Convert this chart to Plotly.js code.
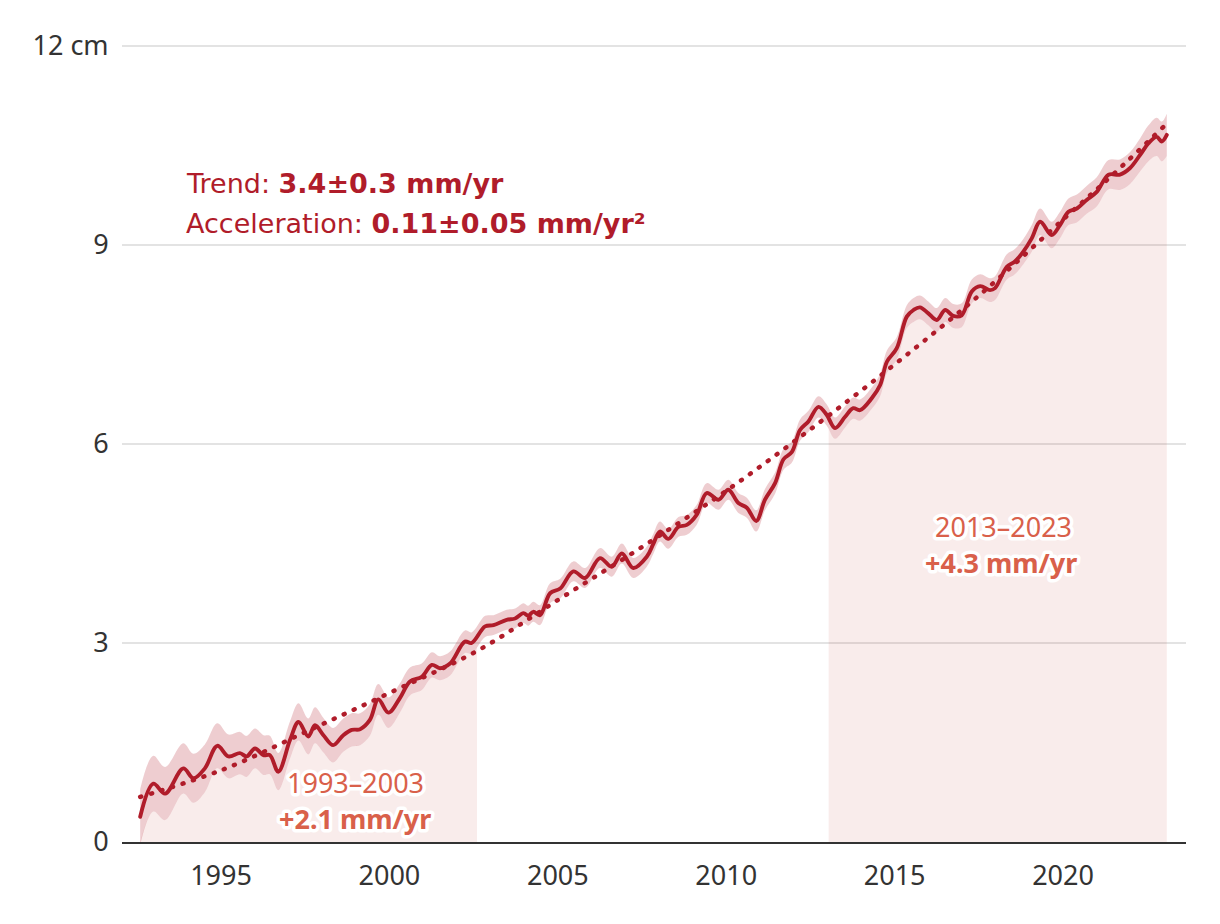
<!DOCTYPE html>
<html>
<head>
<meta charset="utf-8">
<script src="https://cdn.plot.ly/plotly-3.0.1.min.js"></script>
<style>
  html, body { margin: 0; padding: 0; background: #fff; }
  #chart { width: 1220px; height: 924px; }
  .js-line { stroke-linecap: round; stroke-linejoin: round; }
  .annotation-text { paint-order: stroke fill; stroke: #ffffff; stroke-width: 7px; stroke-linejoin: round; }
</style>
</head>
<body>
<div id="chart"></div>
<script>
// Global mean sea level (cm)
const years = [
1993.10,1993.49,1993.84,1994.38,1994.68,1995.02,1995.39,1995.72,1996.06,1996.26,
1996.51,1996.76,1996.95,1997.20,1997.55,1997.80,1998.09,1998.29,1998.54,1998.83,
1999.13,1999.38,1999.63,1999.92,2000.17,2000.47,2000.81,2001.11,2001.46,2001.76,
2002.00,2002.30,2002.74,2002.94,2003.34,2003.59,2003.98,2004.23,2004.48,2004.62,
2004.77,2004.97,2005.27,2005.57,2005.96,2006.31,2006.75,2007.10,2007.40,2007.74,
2008.14,2008.34,2008.53,2008.78,2009.08,2009.33,2009.62,2009.92,2010.27,2010.56,
2010.86,2011.11,2011.39,2011.65,2011.95,2012.20,2012.45,2012.69,2012.94,2013.24,
2013.48,2013.73,2014.03,2014.27,2014.47,2014.82,2015.07,2015.27,2015.56,2015.86,
2016.06,2016.25,2016.50,2016.75,2017.00,2017.24,2017.49,2017.79,2018.04,2018.33,
2018.48,2018.83,2019.07,2019.32,2019.57,2019.82,2020.16,2020.41,2020.66,2020.91,
2021.20,2021.50,2021.85,2022.19,2022.49,2022.79,2023.03,2023.28,2023.43,2023.58];

const gmsl = [
0.38,0.88,0.73,1.11,0.96,1.11,1.45,1.29,1.34,1.29,
1.41,1.31,1.31,1.06,1.54,1.81,1.59,1.76,1.61,1.46,
1.61,1.69,1.70,1.84,2.15,1.95,2.17,2.42,2.49,2.67,
2.62,2.69,3.02,3.00,3.25,3.27,3.35,3.37,3.45,3.41,
3.47,3.42,3.75,3.82,4.08,3.98,4.28,4.15,4.35,4.13,
4.30,4.50,4.68,4.57,4.75,4.78,4.93,5.26,5.16,5.31,
5.11,5.04,4.84,5.16,5.41,5.77,5.88,6.21,6.34,6.56,
6.44,6.24,6.41,6.54,6.51,6.69,6.89,7.24,7.44,7.92,
8.02,8.06,7.97,7.87,8.02,7.93,7.94,8.30,8.38,8.32,
8.35,8.67,8.75,8.90,9.10,9.35,9.15,9.30,9.50,9.55,
9.68,9.80,10.06,10.06,10.16,10.36,10.53,10.63,10.56,10.66];

// Uncertainty half-width (cm)
const uncertainty = [
0.42,0.42,0.40,0.38,0.37,0.36,0.34,0.33,0.32,0.31,
0.30,0.30,0.29,0.28,0.28,0.28,0.27,0.27,0.26,0.26,
0.25,0.25,0.24,0.24,0.23,0.23,0.22,0.21,0.20,0.19,
0.18,0.18,0.17,0.16,0.16,0.15,0.15,0.15,0.15,0.15,
0.15,0.15,0.15,0.15,0.15,0.15,0.15,0.15,0.15,0.15,
0.15,0.15,0.15,0.15,0.15,0.15,0.15,0.15,0.15,0.15,
0.15,0.15,0.16,0.16,0.16,0.16,0.16,0.16,0.16,0.16,
0.16,0.16,0.16,0.16,0.16,0.16,0.17,0.17,0.17,0.17,
0.18,0.18,0.18,0.18,0.18,0.18,0.18,0.18,0.18,0.18,
0.18,0.19,0.19,0.19,0.20,0.20,0.20,0.20,0.20,0.21,
0.21,0.22,0.22,0.23,0.24,0.25,0.27,0.29,0.30,0.32];

// Quadratic trend line
const trendYears = [1993.10,1995.60,1998.10,2000.60,2003.10,2005.60,2008.10,2010.60,2013.10,2015.60,2018.10,2020.60,2022.00,2023.50];
const trendValues = [0.68,1.10,1.68,2.27,2.88,3.68,4.48,5.33,6.26,7.24,8.28,9.43,10.07,10.79];

// Highlighted periods
const periodStarts = [1993.10, 2013.54];
const periodEnds = [2003.10, 2023.58];
const periodLabels = ['1993–2003', '2013–2023'];
const periodRates = ['+2.1 mm/yr', '+4.3 mm/yr'];

const tickYears = [1995, 2000, 2005, 2010, 2015, 2020];
const yTicks = [0, 3, 6, 9, 12];
const yTickText = ['0', '3', '6', '9', '12 cm'];

const RED = '#b01c2a';
const ORANGE = '#d9604a';
const FONT = 'Noto Sans, DejaVu Sans, sans-serif';
const WIDE = 'DejaVu Sans, Noto Sans, sans-serif';
const SMOOTH = 1.0;

const lower = gmsl.map((v, i) => v - uncertainty[i]);
const upper = gmsl.map((v, i) => v + uncertainty[i]);

function interp(xs, ys, x) {
  for (let i = 0; i < xs.length - 1; i++) {
    if (x >= xs[i] && x <= xs[i + 1]) {
      const t = (x - xs[i]) / (xs[i + 1] - xs[i]);
      return ys[i] + t * (ys[i + 1] - ys[i]);
    }
  }
  return x < xs[0] ? ys[0] : ys[ys.length - 1];
}
function clip(xs, ys, a, b) {
  const ox = [a], oy = [interp(xs, ys, a)];
  xs.forEach((x, i) => { if (x > a && x < b) { ox.push(x); oy.push(ys[i]); } });
  ox.push(b); oy.push(interp(xs, ys, b));
  return { x: ox, y: oy };
}

const traces = [];
periodStarts.forEach((a, k) => {
  const c = clip(years, lower, a, periodEnds[k]);
  traces.push({
    x: c.x, y: c.y.map(v => Math.max(v, 0)), type: 'scatter', mode: 'lines',
    line: { width: 0, shape: 'spline', smoothing: SMOOTH }, fill: 'tozeroy',
    fillcolor: 'rgba(200,70,60,0.10)', hoverinfo: 'skip', showlegend: false
  });
});
traces.push({
  x: years, y: lower, type: 'scatter', mode: 'lines',
  line: { width: 0, shape: 'spline', smoothing: SMOOTH }, hoverinfo: 'skip', showlegend: false
});
traces.push({
  x: years, y: upper, type: 'scatter', mode: 'lines', fill: 'tonexty',
  fillcolor: 'rgba(176,28,42,0.22)',
  line: { width: 0, shape: 'spline', smoothing: SMOOTH }, hoverinfo: 'skip', showlegend: false
});
traces.push({
  x: trendYears, y: trendValues, type: 'scatter', mode: 'lines',
  line: { color: RED, width: 4.5, dash: '1px,10px', shape: 'spline' },
  hoverinfo: 'skip', showlegend: false
});
traces.push({
  x: years, y: gmsl, type: 'scatter', mode: 'lines',
  line: { color: RED, width: 3.9, shape: 'spline', smoothing: SMOOTH },
  hoverinfo: 'skip', showlegend: false
});

const annotations = [
  { x: 1994.40, y: 9.92, xref: 'x', yref: 'y', xanchor: 'left', yanchor: 'middle', showarrow: false,
    text: 'Trend: <b>3.4±0.3 mm/yr</b>', font: { family: WIDE, size: 27, color: RED } },
  { x: 1994.40, y: 9.33, xref: 'x', yref: 'y', xanchor: 'left', yanchor: 'middle', showarrow: false,
    text: 'Acceleration: <b>0.11±0.05 mm/yr²</b>', font: { family: WIDE, size: 27, color: RED } },
  { x: 1999.48, y: 0.89, xref: 'x', yref: 'y', xanchor: 'center', yanchor: 'middle', showarrow: false,
    text: periodLabels[0], font: { family: FONT, size: 27, color: ORANGE } },
  { x: 1999.48, y: 0.35, xref: 'x', yref: 'y', xanchor: 'center', yanchor: 'middle', showarrow: false,
    text: '<b>' + periodRates[0] + '</b>', font: { family: FONT, size: 27, color: ORANGE } },
  { x: 2018.72, y: 4.75, xref: 'x', yref: 'y', xanchor: 'center', yanchor: 'middle', showarrow: false,
    text: periodLabels[1], font: { family: FONT, size: 27, color: ORANGE } },
  { x: 2018.66, y: 4.21, xref: 'x', yref: 'y', xanchor: 'center', yanchor: 'middle', showarrow: false,
    text: '<b>' + periodRates[1] + '</b>', font: { family: FONT, size: 27, color: ORANGE } }
];

const layout = {
  width: 1220, height: 924,
  margin: { l: 122, r: 34, t: 44, b: 82 },
  paper_bgcolor: '#ffffff', plot_bgcolor: '#ffffff',
  showlegend: false,
  font: { family: FONT, size: 26, color: '#333333' },
  xaxis: {
    range: [1992.56, 2024.15],
    tickvals: tickYears.map(y => y + 0.5),
    ticktext: tickYears.map(String),
    ticks: 'outside', ticklen: 9, tickcolor: 'rgba(0,0,0,0)',
    showgrid: false, zeroline: false,
    showline: true, linecolor: '#333333', linewidth: 2,
    tickfont: { family: FONT, size: 27, color: '#333333' },
    fixedrange: true
  },
  yaxis: {
    range: [0, 12.03],
    tickvals: yTicks, ticktext: yTickText,
    ticks: 'outside', ticklen: 7, tickcolor: 'rgba(0,0,0,0)',
    showgrid: true, gridcolor: '#e3e3e3', gridwidth: 1.5,
    zeroline: false, showline: false,
    tickfont: { family: FONT, size: 27, color: '#333333' },
    fixedrange: true
  },
  annotations: annotations
};

Plotly.newPlot('chart', traces, layout, { displayModeBar: false, staticPlot: true });
</script>
</body>
</html>
